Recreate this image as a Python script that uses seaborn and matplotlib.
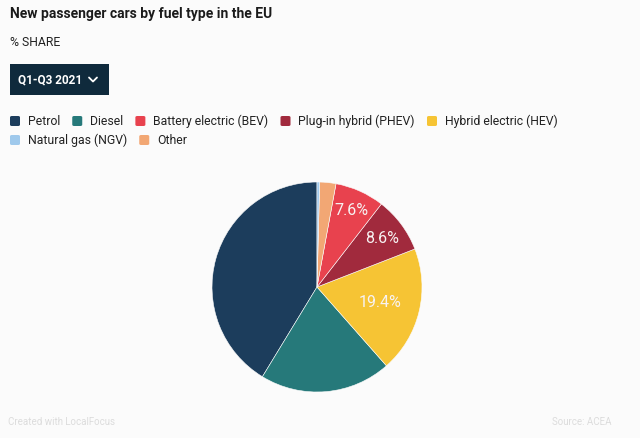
import matplotlib
matplotlib.use('Agg')
import matplotlib.pyplot as plt
import seaborn as sns
import numpy as np
from matplotlib.patches import FancyBboxPatch
from matplotlib.lines import Line2D

# data (share of new passenger cars, %)
legend_labels = ['Petrol', 'Diesel', 'Battery electric (BEV)', 'Plug-in hybrid (PHEV)',
                 'Hybrid electric (HEV)', 'Natural gas (NGV)', 'Other']
legend_colors = ['#1c3d5c', '#26797a', '#e8424e', '#a12a3d', '#f6c434', '#9fc9ec', '#f2a774']

# slices in drawing order (counter-clockwise from 12 o'clock)
slice_names = ['Petrol', 'Diesel', 'Hybrid electric (HEV)', 'Plug-in hybrid (PHEV)',
               'Battery electric (BEV)', 'Other', 'Natural gas (NGV)']
slice_values = [41.3, 20.2, 19.4, 8.6, 7.6, 2.5, 0.4]
shown_labels = {'Hybrid electric (HEV)': 0.62, 'Plug-in hybrid (PHEV)': 0.77,
                'Battery electric (BEV)': 0.80}

sns.set_theme(style='white')
plt.rcParams['font.family'] = ['Roboto', 'DejaVu Sans']

W, H = 640, 438
bg = '#fbfbfb'
fig = plt.figure(figsize=(W / 100, H / 100), dpi=100, facecolor=bg)


def fx(x):
    return x / W


def fy(y):
    return 1 - y / H


# header
fig.text(fx(10), fy(14), 'New passenger cars by fuel type in the EU', fontsize=10,
         fontweight='bold', color='#1b1b1b', va='center', ha='left')
fig.text(fx(10), fy(43), '% SHARE', fontsize=8.8, color='#222222', va='center', ha='left')

# period button
btn = FancyBboxPatch((fx(10), fy(95)), fx(99), 31 / H, boxstyle='square,pad=0',
                     transform=fig.transFigure, facecolor='#0f2a3c', edgecolor='none')
fig.patches.append(btn)
fig.text(fx(18), fy(79.5), 'Q1-Q3 2021', fontsize=8.5, fontweight='bold', color='white',
         va='center', ha='left')
fig.lines.append(Line2D([fx(89), fx(93), fx(97)], [fy(77.5), fy(81.5), fy(77.5)],
                        transform=fig.transFigure, color='white', lw=1.3))

# legend (flowing, two rows)
cmap = dict(zip(legend_labels, legend_colors))
fig.canvas.draw()
renderer = fig.canvas.get_renderer()
rows = [legend_labels[:5], legend_labels[5:]]
row_y = [121, 140]
for row, yc in zip(rows, row_y):
    x = 10
    for name in row:
        sq = FancyBboxPatch((fx(x), fy(yc + 5)), fx(10), 10 / H,
                            boxstyle='round,pad=0,rounding_size=0.003',
                            transform=fig.transFigure, facecolor=cmap[name], edgecolor='none')
        fig.patches.append(sq)
        t = fig.text(fx(x + 18), fy(yc), name, fontsize=8.8, color='#222222',
                     va='center', ha='left')
        bb = t.get_window_extent(renderer)
        x = x + 18 + bb.width + 12

# pie
cx, cy, r = 317, 287, 105
ax = fig.add_axes([fx(cx - r), fy(cy + r), 2 * r / W, 2 * r / H])
ax.set_facecolor(bg)
wedges, _ = ax.pie(slice_values, colors=[cmap[n] for n in slice_names], startangle=90,
                   counterclock=True, wedgeprops=dict(linewidth=0.4, edgecolor=bg))
ax.set_xlim(-1, 1)
ax.set_ylim(-1, 1)
ax.set_aspect('equal')
ax.axis('off')
for w, name, v in zip(wedges, slice_names, slice_values):
    if name in shown_labels:
        ang = np.deg2rad((w.theta1 + w.theta2) / 2)
        rr = shown_labels[name]
        ax.text(rr * np.cos(ang), rr * np.sin(ang), f'{v:.1f}%', fontsize=11.5,
                color='#f7f2f2', ha='center', va='center')

# footer
fig.text(fx(8), fy(422), 'Created with LocalFocus', fontsize=7, color='#dcdcdc',
         va='center', ha='left')
fig.text(fx(611), fy(422), 'Source: ACEA', fontsize=7, color='#dcdcdc',
         va='center', ha='right')

fig.savefig('out.png', dpi=100, facecolor=bg)
